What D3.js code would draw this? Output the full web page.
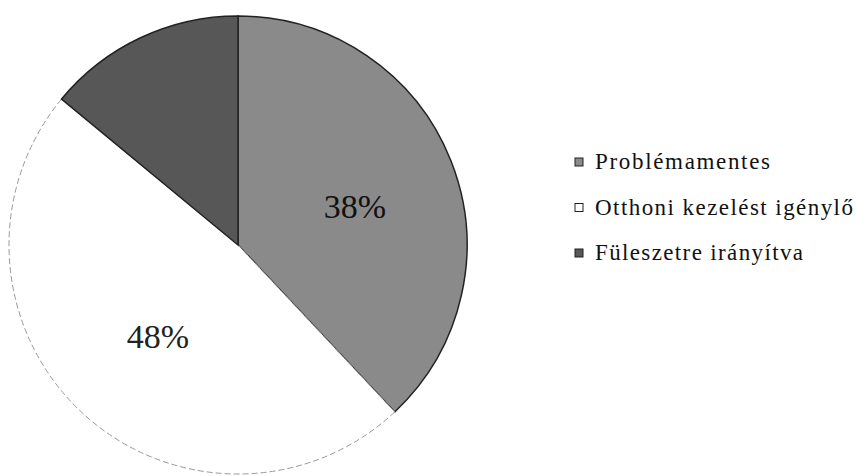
<!DOCTYPE html>
<html><head><meta charset="utf-8"><script src="https://cdn.jsdelivr.net/npm/d3@7"></script></head>
<body style="margin:0"><svg id="chart" width="857" height="476" style="display:block;font-family:'Liberation Serif',serif"></svg>
<script>
const categories = ["Problémamentes", "Otthoni kezelést igénylő", "Füleszetre irányítva"];
const values = [38, 48, 14];
const sliceLabels = ["38%", "48%", ""];
const colors = ["#8a8a8a", "#ffffff", "#575757"];
const legendWidths = [175, 258, 208];

const svg = d3.select("#chart");
const cx = 238, cy = 245, r = 229;

const pie = d3.pie().sort(null).value(d => d)(values);
const arc = d3.arc().innerRadius(0).outerRadius(r);

const g = svg.append("g").attr("transform", `translate(${cx},${cy})`);

g.selectAll("path.slice")
  .data(pie)
  .enter().append("path")
  .attr("class", "slice")
  .attr("d", arc)
  .attr("fill", (d, i) => colors[i])
  .attr("stroke", (d, i) => i === 1 ? "#999" : "#222")
  .attr("stroke-width", (d, i) => i === 1 ? 1 : 1.5)
  .attr("stroke-dasharray", (d, i) => i === 1 ? "6,3" : null);

const labelPos = [[117, -38], [-80, 92]];
g.selectAll("text.lbl")
  .data(pie.filter((d, i) => sliceLabels[i] !== ""))
  .enter().append("text")
  .attr("class", "lbl")
  .attr("x", (d, i) => labelPos[i][0])
  .attr("y", (d, i) => labelPos[i][1] + 11)
  .attr("text-anchor", "middle")
  .style("font-family", d => `"Liberation Serif"`)
  .attr("font-size", 34)
  .attr("fill", (d, i) => i === 0 ? "#111" : "#222")
  .text(d => sliceLabels[d.index]);

const legend = svg.append("g").attr("transform", "translate(575,162)");
const rowH = 45.5;
const item = legend.selectAll("g.item")
  .data(categories)
  .enter().append("g")
  .attr("class", "item")
  .attr("transform", (d, i) => `translate(0,${i * rowH})`);

item.append("rect")
  .attr("x", 0).attr("y", -4)
  .attr("width", 8).attr("height", 8)
  .attr("fill", (d, i) => colors[i])
  .attr("stroke", "#222")
  .attr("stroke-width", 1);

item.append("text")
  .attr("x", 20)
  .attr("y", 7)
  .style("font-family", d => `"Liberation Serif"`)
  .attr("font-size", 23)
  .attr("fill", "#111")
  .text(d => d)
  .each(function(d, i) {
    const w = this.getComputedTextLength();
    const ls = Math.max(0, (legendWidths[i] - w) / (d.length - 1));
    d3.select(this).attr("letter-spacing", ls.toFixed(2));
  });
</script></body></html>
